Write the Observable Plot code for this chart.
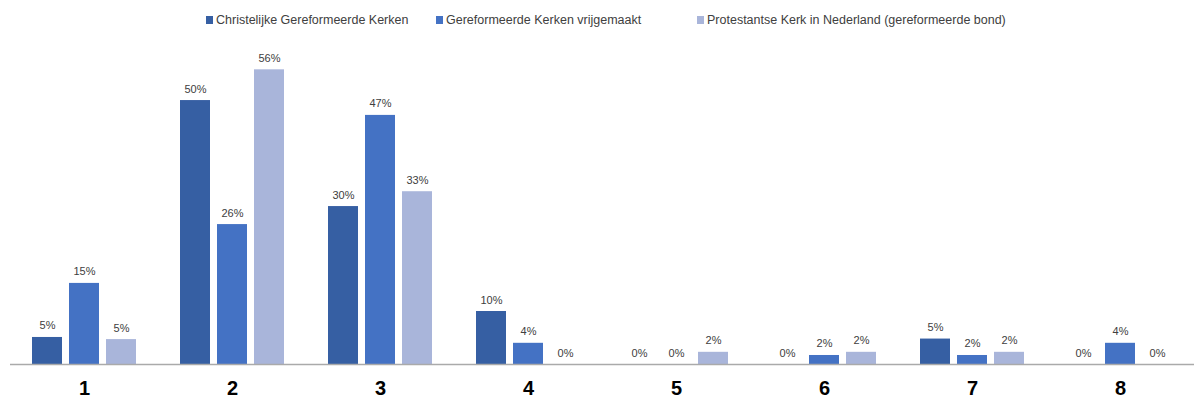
<!DOCTYPE html>
<html><head><meta charset="utf-8">
<script src="https://cdn.jsdelivr.net/npm/d3@7"></script>
<script src="https://cdn.jsdelivr.net/npm/@observablehq/plot@0.6"></script>
<style>
body{margin:0;background:#fff;font-family:"Liberation Sans",Arial,sans-serif;}
#legend{height:40px;position:relative;font-size:12.5px;color:#404040;}
#legend .item{position:absolute;top:13px;display:flex;align-items:center;white-space:nowrap;}
#legend .sw{width:7px;height:8px;margin-right:3px;}
</style></head>
<body>
<div id="legend"></div>
<div id="chart"></div>
<script>
const groups = ["1","2","3","4","5","6","7","8"];
const series = ["Christelijke Gereformeerde Kerken","Gereformeerde Kerken vrijgemaakt","Protestantse Kerk in Nederland (gereformeerde bond)"];
const colors = ["#365FA3","#4472C4","#A9B5DA"];
const cgk = [5.1, 49.8, 29.8, 10.0, 0, 0, 4.8, 0];
const gkv = [15.3, 26.4, 47.0, 4.0, 0, 1.7, 1.7, 4.0];
const pkn = [4.7, 55.6, 32.6, 0, 2.3, 2.3, 2.3, 0];
const legendLeft = [206, 436, 697];

const seriesValues = [cgk, gkv, pkn];
const data = [];
groups.forEach((g, i) => series.forEach((s, j) => data.push({group: g, series: s, value: seriesValues[j][i]})));

const legend = document.getElementById("legend");
series.forEach((s, j) => {
  const it = document.createElement("div"); it.className = "item"; it.style.left = legendLeft[j] + "px";
  const sw = document.createElement("div"); sw.className = "sw"; sw.style.background = colors[j];
  const t = document.createElement("span"); t.textContent = s;
  it.appendChild(sw); it.appendChild(t); legend.appendChild(it);
});

const chart = Plot.plot({
  width: 1196,
  height: 360,
  marginTop: 6,
  marginBottom: 36,
  marginLeft: 7,
  marginRight: 0,
  style: {fontFamily: "Liberation Sans, Arial, sans-serif", background: "#fff"},
  fx: {domain: groups, padding: 0, label: null},
  x: {domain: series, paddingInner: 0.2, paddingOuter: 0.58, axis: null},
  y: {domain: [0, 60], axis: null},
  color: {domain: series, range: colors},
  marks: [
    Plot.barY(data, {fx: "group", x: "series", y: "value", fill: "series"}),
    Plot.ruleY([0], {stroke: "#aaaaaa", strokeWidth: 1.5}),
    Plot.text(data, {fx: "group", x: "series", y: "value", text: d => Math.round(d.value) + "%", dy: -8, lineAnchor: "bottom", fontSize: 11, fill: "#404040"}),
    Plot.axisFx({anchor: "bottom", tickSize: 0, tickPadding: 16, fontSize: 20, fontWeight: "bold", fill: "#000", label: null})
  ]
});
document.getElementById("chart").appendChild(chart);
</script>
</body></html>
